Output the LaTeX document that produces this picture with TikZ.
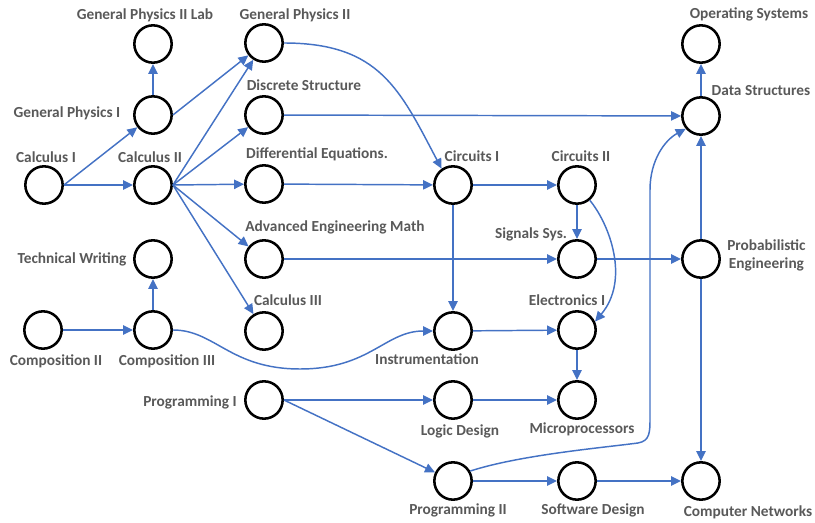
\documentclass[tikz,border=0pt]{standalone}
\usepackage{fontspec}
\setmainfont{Carlito}
\usetikzlibrary{arrows.meta}
\definecolor{edgeblue}{HTML}{4472C4}
\definecolor{labelgray}{HTML}{595959}
\begin{document}
\begin{tikzpicture}[x=0.75pt,y=-0.75pt,
  course/.style={circle, draw=black, line width=1.9pt, minimum size=28pt, inner sep=0pt},
  lbl/.style={text=labelgray, font=\fontsize{11.5}{13.5}\selectfont\bfseries, inner sep=0pt, align=center},
  prereq/.style={draw=edgeblue, line width=1.1pt, -{Triangle[length=7.5pt,width=7pt]}}]
\useasboundingbox (0,0) rectangle (815,523);

% course circles
\node[course] (calc1) at (44,185) {};
\node[course] (calc2) at (153,185) {};
\node[course] (gp1)   at (153,115) {};
\node[course] (gp2lab) at (153,44) {};
\node[course] (techw) at (153,259) {};
\node[course] (comp2) at (43,330) {};
\node[course] (comp3) at (153,330) {};
\node[course] (gp2)   at (264,43) {};
\node[course] (discr) at (264,115) {};
\node[course] (diffeq) at (264,184) {};
\node[course] (aem)   at (264,259) {};
\node[course] (calc3) at (264,331) {};
\node[course] (prog1) at (264,400) {};
\node[course] (circ1) at (453,185) {};
\node[course] (instr) at (453,331) {};
\node[course] (logic) at (453,400) {};
\node[course] (prog2) at (453,481) {};
\node[course] (circ2) at (577,185) {};
\node[course] (sig)   at (577,259) {};
\node[course] (elec1) at (577,330) {};
\node[course] (micro) at (577,400) {};
\node[course] (softd) at (577,481) {};
\node[course] (os)    at (701,44) {};
\node[course] (ds)    at (701,116) {};
\node[course] (prob)  at (701,259) {};
\node[course] (net)   at (701,481) {};

% course titles
\node[lbl] (calc1-t) at (46,157) {Calculus I};
\node[lbl] (calc2-t) at (150,157) {Calculus II};
\node[lbl] (gp1-t) at (67,113) {General Physics I};
\node[lbl] (gp2lab-t) at (145,15) {General Physics II Lab};
\node[lbl] (techw-t) at (72,259) {Technical Writing};
\node[lbl] (comp2-t) at (56,361) {Composition II};
\node[lbl] (comp3-t) at (167,361) {Composition III};
\node[lbl] (gp2-t) at (295,15) {General Physics II};
\node[lbl] (discr-t) at (304,85) {Discrete Structure};
\node[lbl] (diffeq-t) at (317,154) {Differential Equations.};
\node[lbl] (aem-t) at (335,227) {Advanced Engineering Math};
\node[lbl] (calc3-t) at (288,300) {Calculus III};
\node[lbl] (prog1-t) at (190,402) {Programming I};
\node[lbl] (circ1-t) at (472,156) {Circuits I};
\node[lbl] (instr-t) at (427,359) {Instrumentation};
\node[lbl] (logic-t) at (460,431) {Logic Design};
\node[lbl] (prog2-t) at (458,510) {Programming II};
\node[lbl] (circ2-t) at (581,156) {Circuits II};
\node[lbl] (sig-t) at (531,234) {Signals Sys.};
\node[lbl] (elec1-t) at (567,300) {Electronics I};
\node[lbl] (micro-t) at (582,429) {Microprocessors};
\node[lbl] (softd-t) at (593,510) {Software Design};
\node[lbl] (os-t) at (749,14) {Operating Systems};
\node[lbl] (ds-t) at (761,91) {Data Structures};
\node[lbl, anchor=west] (prob-t) at (727,255) {Probabilistic\\Engineering};
\node[lbl] (net-t) at (748,512) {Computer Networks};

% prerequisite arrows
\draw[prereq] (calc1.east) -- (gp1);
\draw[prereq] (calc1.east) -- (calc2);
\draw[prereq] (gp1) -- (gp2lab);
\draw[prereq] (gp1.east) -- (gp2);
\draw[prereq] (calc2.east) -- (gp2);
\draw[prereq] (calc2.east) -- (discr);
\draw[prereq] (calc2.east) -- (diffeq);
\draw[prereq] (calc2.east) -- (aem);
\draw[prereq] (calc2.east) -- (calc3);
\draw[prereq] (gp2.east) .. controls (380,43) and (400,90) .. (circ1.125);
\draw[prereq] (discr) -- (ds);
\draw[prereq] (diffeq) -- (circ1);
\draw[prereq] (aem) -- (sig);
\draw[prereq] (circ1) -- (circ2);
\draw[prereq] (circ1) -- (instr);
\draw[prereq] (circ2) -- (sig);
\draw[prereq] (circ2.-50) .. controls (610,225) and (630,280) .. (elec1.25);
\draw[prereq] (sig) -- (prob);
\draw[prereq] (prob) -- (ds);
\draw[prereq] (prob) -- (net);
\draw[prereq] (ds) -- (os);
\draw[prereq] (comp2) -- (comp3);
\draw[prereq] (comp3) -- (techw);
\draw[prereq] (comp3.east) .. controls (215,330) and (230,369) .. (300,369)
  .. controls (370,369) and (385,331) .. (instr.west);
\draw[prereq] (instr) -- (elec1);
\draw[prereq] (elec1) -- (micro);
\draw[prereq] (prog1) -- (logic);
\draw[prereq] (prog1.east) -- (prog2);
\draw[prereq] (logic) -- (micro);
\draw[prereq] (prog2) -- (softd);
\draw[prereq] (softd) -- (net);
\draw[prereq] (prog2.30) .. controls (520,455) and (600,448) .. (638,443)
  .. controls (650,441) and (650,432) .. (650,418) -- (650,190)
  .. controls (650,160) and (665,140) .. (ds.220);
\end{tikzpicture}
\end{document}
